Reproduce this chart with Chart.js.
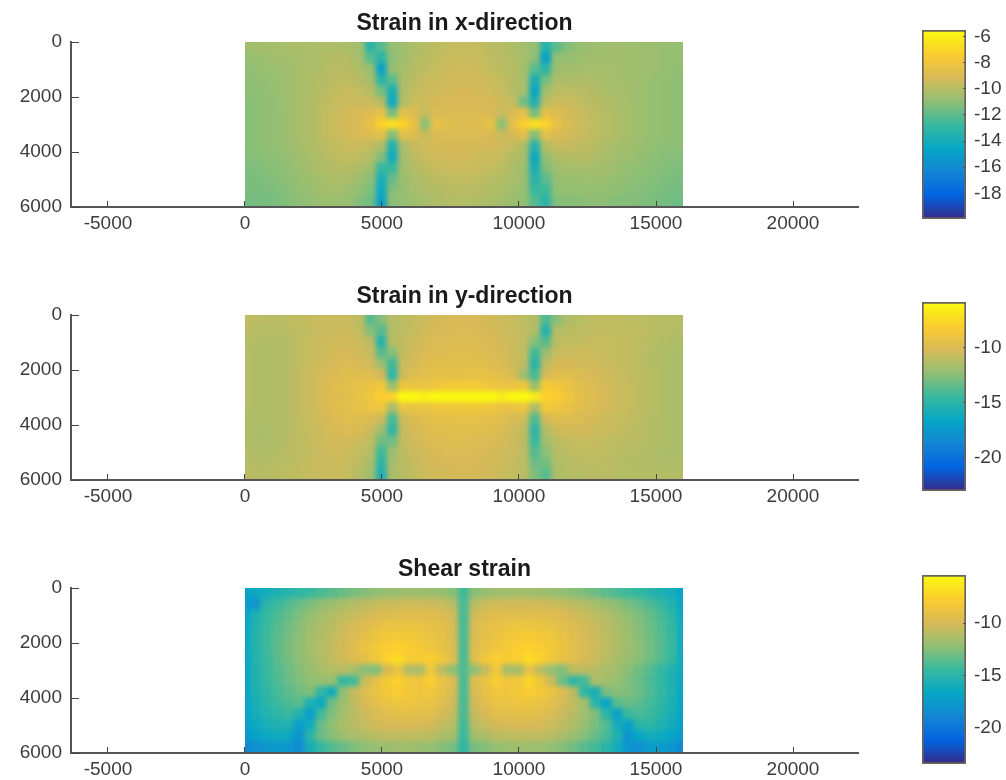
<!DOCTYPE html>
<html><head><meta charset="utf-8">
<style>html,body{margin:0;background:#fff}canvas{position:absolute}</style>
<script src="https://cdn.jsdelivr.net/npm/chart.js@4"></script></head><body>
<script>
const titles=["Strain in x-direction","Strain in y-direction","Shear strain"];
const xTicks=[-5000,0,5000,10000,15000,20000];
const yTicks=[0,2000,4000,6000];
const rowCenters=[200,600,1000,1400,1800,2200,2600,3000,3400,3800,4200,4600,5000,5400,5800];
const colsA=[200,600,1000,1400,1800,2200,2600,3000,3400,3800,4200,4600,5000,5400,5800,6200,6600,7000,7400,7800,8200,8600,9000,9400,9800,10200,10600,11000,11400,11800,12200,12600,13000,13400,13800,14200,14600,15000,15400,15800];
const colsB=[0,400,800,1200,1600,2000,2400,2800,3200,3600,4000,4400,4800,5200,5600,6000,6400,6800,7200,7600,8000,8400,8800,9200,9600,10000,10400,10800,11200,11600,12000,12400,12800,13200,13600,14000,14400,14800,15200,15600,16000];
const parula=["#352a87","#0363e1","#1485d4","#06a7c6","#38b99e","#92bf73","#d9ba56","#fcce2e","#f9fb0e"];
const rangeX=[-19.97,-5.49], rangeY=[-23.06,-5.8], rangeS=[-23.4,-5.43];
const barTicksX=[-6,-8,-10,-12,-14,-16,-18], barTicksY=[-10,-15,-20], barTicksS=[-10,-15,-20];

const strainX=[
[-10.6,-10.5,-10.4,-10.4,-10.3,-10.3,-10.2,-10.2,-10.2,-10.3,-10.5,-13.2,-12.1,-10.9,-10.6,-10.2,-10.0,-9.8,-9.7,-9.6,-9.6,-9.7,-9.9,-10.0,-10.2,-10.5,-10.9,-13.4,-12.0,-11.2,-10.9,-10.7,-10.6,-10.5,-10.6,-10.6,-10.7,-10.7,-10.8,-10.8],
[-10.8,-10.7,-10.6,-10.5,-10.4,-10.3,-10.2,-10.1,-10.0,-10.1,-10.4,-12.1,-13.2,-11.0,-10.6,-10.1,-9.9,-9.7,-9.6,-9.5,-9.5,-9.6,-9.8,-9.9,-10.1,-10.4,-11.0,-14.9,-10.9,-10.8,-10.7,-10.6,-10.5,-10.5,-10.5,-10.6,-10.6,-10.7,-10.8,-10.8],
[-10.9,-10.8,-10.7,-10.6,-10.5,-10.3,-10.2,-10.0,-9.9,-10.0,-10.2,-10.8,-14.9,-10.8,-10.4,-10.0,-9.8,-9.6,-9.5,-9.4,-9.4,-9.5,-9.7,-9.9,-10.0,-10.4,-12.1,-13.2,-10.6,-10.5,-10.5,-10.4,-10.4,-10.4,-10.5,-10.6,-10.6,-10.7,-10.8,-10.9],
[-11.0,-10.9,-10.8,-10.7,-10.5,-10.3,-10.1,-10.0,-9.8,-9.8,-10.0,-10.4,-13.2,-12.1,-10.3,-9.9,-9.6,-9.5,-9.4,-9.3,-9.3,-9.4,-9.5,-9.7,-10.0,-10.4,-13.8,-11.5,-10.3,-10.2,-10.2,-10.2,-10.3,-10.4,-10.5,-10.6,-10.7,-10.8,-10.9,-11.0],
[-11.0,-11.0,-10.8,-10.7,-10.5,-10.3,-10.1,-9.9,-9.7,-9.6,-9.7,-10.0,-11.5,-13.8,-10.2,-9.8,-9.5,-9.4,-9.3,-9.2,-9.2,-9.3,-9.4,-9.6,-10.0,-10.4,-14.6,-10.5,-9.9,-9.8,-9.9,-10.0,-10.2,-10.3,-10.4,-10.6,-10.7,-10.8,-10.9,-11.0],
[-11.1,-11.0,-10.9,-10.7,-10.5,-10.3,-10.0,-9.8,-9.6,-9.5,-9.5,-9.6,-10.0,-14.3,-10.1,-9.5,-9.3,-9.2,-9.1,-9.1,-9.1,-9.1,-9.2,-9.4,-9.7,-11.6,-13.6,-9.9,-9.5,-9.5,-9.7,-9.9,-10.0,-10.2,-10.4,-10.5,-10.7,-10.8,-10.9,-11.0],
[-11.1,-11.0,-10.9,-10.7,-10.5,-10.3,-10.0,-9.7,-9.5,-9.3,-9.1,-8.9,-8.5,-11.5,-8.6,-8.9,-9.6,-9.0,-9.0,-9.0,-9.0,-9.0,-9.1,-9.6,-9.0,-8.6,-11.5,-8.6,-8.9,-9.2,-9.5,-9.7,-9.9,-10.1,-10.3,-10.5,-10.7,-10.8,-10.9,-11.0],
[-11.1,-11.0,-10.9,-10.8,-10.5,-10.3,-10.0,-9.7,-9.4,-9.2,-9.0,-8.4,-7.2,-6.6,-7.2,-8.4,-11.0,-8.4,-8.7,-8.9,-8.9,-8.8,-8.4,-11.0,-8.6,-7.4,-6.6,-7.2,-8.4,-9.0,-9.4,-9.7,-9.9,-10.1,-10.3,-10.5,-10.7,-10.8,-10.9,-11.0],
[-11.1,-11.0,-10.9,-10.7,-10.5,-10.3,-10.0,-9.7,-9.5,-9.3,-9.1,-8.9,-8.6,-11.2,-8.7,-8.9,-9.6,-9.0,-9.0,-9.0,-9.0,-9.0,-9.1,-9.6,-9.1,-8.7,-11.2,-8.7,-9.0,-9.2,-9.5,-9.7,-9.9,-10.1,-10.3,-10.5,-10.7,-10.8,-10.9,-11.0],
[-11.1,-11.0,-10.9,-10.8,-10.6,-10.3,-10.1,-9.9,-9.7,-9.5,-9.5,-9.7,-10.2,-13.6,-10.3,-9.6,-9.3,-9.2,-9.2,-9.2,-9.2,-9.2,-9.2,-9.4,-9.7,-10.2,-13.4,-10.0,-9.6,-9.6,-9.8,-9.9,-10.1,-10.3,-10.5,-10.6,-10.8,-10.9,-11.0,-11.0],
[-11.2,-11.1,-11.0,-10.9,-10.7,-10.5,-10.2,-10.0,-9.8,-9.7,-9.8,-10.1,-11.2,-14.2,-10.4,-9.9,-9.5,-9.4,-9.3,-9.3,-9.3,-9.4,-9.5,-9.7,-10.1,-10.4,-14.4,-10.8,-10.2,-10.0,-10.0,-10.1,-10.3,-10.4,-10.6,-10.7,-10.9,-11.0,-11.1,-11.2],
[-11.3,-11.2,-11.1,-11.0,-10.8,-10.6,-10.3,-10.1,-10.0,-10.0,-10.2,-10.6,-12.8,-12.8,-10.5,-10.1,-9.8,-9.6,-9.5,-9.5,-9.5,-9.6,-9.7,-9.9,-10.2,-10.7,-13.9,-11.3,-10.6,-10.4,-10.4,-10.4,-10.5,-10.6,-10.8,-10.9,-11.0,-11.1,-11.2,-11.3],
[-11.4,-11.3,-11.2,-11.1,-10.9,-10.7,-10.5,-10.3,-10.2,-10.3,-10.6,-11.0,-13.8,-11.8,-10.7,-10.3,-10.0,-9.9,-9.8,-9.7,-9.7,-9.8,-9.9,-10.1,-10.3,-10.7,-13.3,-12.0,-10.9,-10.7,-10.7,-10.6,-10.7,-10.8,-10.9,-11.0,-11.1,-11.2,-11.3,-11.4],
[-11.4,-11.4,-11.3,-11.2,-11.0,-10.8,-10.6,-10.5,-10.4,-10.6,-10.9,-11.3,-14.3,-11.2,-10.8,-10.4,-10.2,-10.1,-10.0,-9.9,-9.9,-10.0,-10.1,-10.3,-10.5,-10.8,-12.8,-12.6,-11.0,-10.9,-10.9,-10.8,-10.9,-10.9,-11.0,-11.1,-11.2,-11.3,-11.4,-11.5],
[-11.5,-11.5,-11.4,-11.3,-11.1,-11.0,-10.8,-10.7,-10.7,-10.8,-11.2,-11.6,-14.9,-11.0,-10.9,-10.6,-10.4,-10.2,-10.1,-10.1,-10.1,-10.2,-10.3,-10.5,-10.7,-10.9,-12.2,-13.2,-11.2,-11.1,-11.1,-11.0,-11.0,-11.1,-11.2,-11.2,-11.3,-11.4,-11.5,-11.6]
];
const strainY=[
[-10.9,-11,-11.1,-11,-10.9,-10.8,-10.7,-10.6,-10.6,-10.6,-10.9,-13.7,-12.6,-11.2,-11,-10.8,-10.5,-10.3,-10.2,-10.1,-10.1,-10.2,-10.3,-10.5,-10.7,-11,-11.3,-13.9,-12.5,-11.4,-11.2,-11,-10.9,-10.9,-10.9,-11,-11,-11.1,-11.2,-11.2],
[-11.1,-11.2,-11.2,-11.2,-11,-10.9,-10.7,-10.6,-10.5,-10.5,-10.8,-12.6,-13.7,-11.3,-11,-10.7,-10.4,-10.2,-10.1,-10,-10,-10.1,-10.2,-10.4,-10.6,-10.9,-11.3,-15.3,-11.2,-11.1,-11,-10.9,-10.8,-10.8,-10.9,-10.9,-11,-11.1,-11.2,-11.3],
[-11.2,-11.3,-11.3,-11.3,-11,-10.8,-10.6,-10.5,-10.4,-10.4,-10.6,-11,-15.3,-11.1,-10.8,-10.5,-10.2,-10,-10,-9.9,-9.9,-10,-10.1,-10.3,-10.5,-10.9,-12.6,-13.7,-11,-10.9,-10.8,-10.7,-10.7,-10.7,-10.8,-10.9,-11,-11.2,-11.3,-11.4],
[-11.3,-11.4,-11.4,-11.3,-11,-10.8,-10.6,-10.4,-10.2,-10.2,-10.4,-10.7,-13.7,-12.6,-10.8,-10.4,-10,-9.9,-9.8,-9.7,-9.7,-9.8,-10,-10.2,-10.5,-10.9,-14.3,-12,-10.7,-10.6,-10.5,-10.5,-10.6,-10.7,-10.8,-10.9,-11.1,-11.3,-11.4,-11.5],
[-11.3,-11.4,-11.4,-11.3,-11,-10.8,-10.5,-10.3,-10.1,-10,-10.1,-10.4,-12,-14.3,-10.6,-10.2,-9.8,-9.6,-9.6,-9.6,-9.6,-9.6,-9.8,-10,-10.5,-10.9,-15.1,-11,-10.3,-10.2,-10.3,-10.4,-10.5,-10.7,-10.8,-10.9,-11.1,-11.3,-11.4,-11.5],
[-11.3,-11.4,-11.4,-11.3,-11,-10.7,-10.4,-10.1,-9.9,-9.7,-9.7,-9.8,-10.3,-14.9,-10.4,-9.8,-9.5,-9.4,-9.4,-9.4,-9.3,-9.3,-9.4,-9.6,-10,-12,-14.1,-10.2,-9.7,-9.6,-9.9,-10.1,-10.3,-10.5,-10.7,-10.9,-11,-11.2,-11.4,-11.5],
[-11.3,-11.4,-11.4,-11.3,-11,-10.7,-10.4,-10,-9.7,-9.5,-9.3,-9,-8.7,-12,-8.9,-9,-9,-8.8,-8.6,-8.5,-8.5,-8.5,-8.8,-9,-9,-8.7,-12,-8.4,-8.6,-9.1,-9.6,-9.9,-10.1,-10.4,-10.6,-10.8,-11,-11.2,-11.4,-11.5],
[-11.3,-11.4,-11.4,-11.3,-11,-10.7,-10.4,-10,-9.8,-9.6,-9.3,-8.8,-8,-7.8,-5.9,-5.9,-6.3,-5.9,-5.9,-5.9,-5.9,-5.9,-5.9,-6.5,-5.9,-5.9,-6.6,-7.8,-8.2,-8.8,-9.4,-9.8,-10.1,-10.3,-10.6,-10.8,-11,-11.2,-11.4,-11.5],
[-11.3,-11.4,-11.4,-11.3,-11,-10.7,-10.4,-10,-9.7,-9.5,-9.3,-9,-8.8,-11.6,-9.1,-9.1,-9.1,-8.9,-8.8,-8.7,-8.7,-8.7,-8.9,-9.1,-9.2,-8.9,-11.6,-8.6,-8.8,-9.2,-9.6,-9.9,-10.1,-10.4,-10.6,-10.8,-11,-11.2,-11.4,-11.5],
[-11.4,-11.4,-11.4,-11.3,-11,-10.8,-10.5,-10.2,-9.9,-9.7,-9.7,-9.9,-10.5,-14.1,-10.5,-9.9,-9.6,-9.5,-9.4,-9.4,-9.4,-9.4,-9.5,-9.7,-10.1,-10.4,-13.9,-10.3,-9.8,-9.8,-10,-10.2,-10.4,-10.6,-10.8,-10.9,-11.1,-11.3,-11.4,-11.5],
[-11.4,-11.5,-11.4,-11.3,-11,-10.8,-10.6,-10.3,-10.1,-10,-10.1,-10.5,-11.9,-14.9,-10.7,-10.2,-9.9,-9.7,-9.6,-9.6,-9.6,-9.7,-9.8,-10,-10.4,-10.8,-15,-11.2,-10.5,-10.3,-10.3,-10.4,-10.6,-10.7,-10.8,-11,-11.1,-11.3,-11.4,-11.5],
[-11.4,-11.5,-11.4,-11.3,-11,-10.9,-10.6,-10.4,-10.3,-10.3,-10.5,-10.9,-13.1,-13.1,-10.8,-10.4,-10.1,-9.9,-9.8,-9.8,-9.8,-9.9,-10,-10.2,-10.5,-11,-14.5,-11.8,-11,-10.8,-10.7,-10.7,-10.8,-10.9,-11,-11.1,-11.2,-11.3,-11.4,-11.5],
[-11.3,-11.4,-11.3,-11.2,-11,-10.9,-10.7,-10.5,-10.4,-10.5,-10.8,-11.2,-14.3,-12,-11,-10.6,-10.3,-10.1,-10,-10,-10,-10.1,-10.2,-10.4,-10.6,-11,-13.8,-12.4,-11.2,-11,-10.9,-10.9,-10.9,-11,-11.1,-11.2,-11.3,-11.4,-11.5,-11.5],
[-11.2,-11.3,-11.2,-11.1,-11,-10.8,-10.7,-10.6,-10.5,-10.7,-11,-11.6,-14.9,-11.6,-11.1,-10.7,-10.4,-10.2,-10.2,-10.1,-10.1,-10.2,-10.3,-10.5,-10.7,-11,-13.2,-13,-11.4,-11.2,-11.1,-11,-11,-11.1,-11.2,-11.3,-11.3,-11.4,-11.4,-11.4],
[-11.1,-11.2,-11.1,-11,-10.9,-10.8,-10.7,-10.6,-10.6,-10.8,-11.2,-11.8,-15.5,-11.5,-11.2,-10.8,-10.5,-10.4,-10.3,-10.2,-10.2,-10.3,-10.4,-10.6,-10.8,-11,-12.7,-13.7,-11.5,-11.2,-11.2,-11.1,-11.1,-11.1,-11.2,-11.2,-11.3,-11.3,-11.3,-11.3]
];
const strainS=[
[-17.0,-16.4,-16.0,-15.6,-15.2,-14.8,-14.4,-14.0,-13.6,-13.2,-12.8,-12.5,-12.2,-12.0,-11.9,-11.8,-11.8,-11.9,-12.0,-12.4,-14.2,-12.4,-12.0,-11.8,-11.7,-11.7,-11.7,-11.8,-11.9,-12.1,-12.4,-12.7,-13.1,-13.5,-13.9,-14.3,-14.7,-15.1,-15.5,-16.0,-16.8],
[-17.2,-18.0,-15.0,-14.4,-13.8,-13.2,-12.7,-12.2,-11.8,-11.4,-11.1,-10.8,-10.6,-10.4,-10.3,-10.2,-10.2,-10.3,-10.4,-11.0,-14.0,-11.0,-10.4,-10.2,-10.1,-10.1,-10.1,-10.2,-10.3,-10.5,-10.8,-11.1,-11.5,-11.9,-12.3,-12.8,-13.3,-13.9,-14.5,-15.3,-16.6],
[-16.8,-15.6,-14.6,-13.9,-13.3,-12.7,-12.1,-11.6,-11.2,-10.8,-10.5,-10.2,-9.9,-9.7,-9.6,-9.5,-9.5,-9.6,-9.7,-10.2,-14.0,-10.2,-9.7,-9.5,-9.4,-9.4,-9.4,-9.5,-9.6,-9.8,-10.1,-10.4,-10.8,-11.2,-11.7,-12.2,-12.7,-13.3,-14.0,-14.9,-16.4],
[-16.6,-15.4,-14.4,-13.7,-13.0,-12.4,-11.8,-11.3,-10.9,-10.4,-10.0,-9.6,-9.2,-8.9,-8.8,-8.8,-8.9,-9.1,-9.3,-9.8,-14.0,-9.8,-9.3,-9.0,-8.8,-8.7,-8.7,-8.8,-9.0,-9.3,-9.7,-10.1,-10.5,-10.9,-11.4,-11.9,-12.5,-13.1,-13.8,-14.7,-16.2],
[-16.6,-15.3,-14.3,-13.6,-12.9,-12.3,-11.7,-11.2,-10.7,-10.2,-9.7,-9.2,-8.7,-8.3,-8.1,-8.2,-8.5,-8.8,-9.1,-9.7,-14.0,-9.7,-9.1,-8.8,-8.4,-8.1,-8.0,-8.2,-8.5,-9.0,-9.5,-9.9,-10.4,-10.8,-11.3,-11.8,-12.4,-13.0,-13.7,-14.6,-16.2],
[-16.6,-15.3,-14.3,-13.5,-12.8,-12.2,-11.6,-11.1,-10.6,-10.1,-9.5,-8.9,-8.3,-7.9,-7.7,-7.9,-8.2,-8.6,-9.0,-9.6,-14.0,-9.6,-9.0,-8.6,-8.1,-7.8,-7.6,-7.9,-8.2,-8.8,-9.3,-9.8,-10.3,-10.8,-11.3,-11.8,-12.3,-12.9,-13.6,-14.5,-16.2],
[-16.7,-15.4,-14.4,-13.6,-12.9,-12.3,-11.7,-11.2,-10.7,-10.2,-9.7,-9.2,-8.5,-7.6,-7.0,-8.0,-8.0,-7.8,-8.4,-9.4,-14.0,-9.4,-8.4,-7.8,-8.0,-7.8,-7.0,-7.6,-8.4,-9.0,-9.5,-10.0,-10.4,-10.9,-11.4,-11.9,-12.4,-13.0,-13.7,-14.6,-16.3],
[-16.8,-15.5,-14.5,-13.8,-13.1,-12.5,-12.0,-11.5,-11.1,-10.9,-11.5,-12.4,-12.6,-10.0,-8.8,-11.2,-11.4,-8.6,-10.8,-12.2,-13.8,-12.2,-10.5,-8.5,-11.5,-11.5,-9.0,-10.8,-12.0,-12.6,-10.8,-10.8,-11.0,-11.4,-11.8,-12.4,-13.0,-13.7,-14.6,-15.4,-16.3],
[-16.8,-15.5,-14.6,-13.9,-13.2,-12.7,-12.2,-12.0,-12.0,-14.6,-14.2,-10.4,-9.2,-8.2,-7.6,-8.4,-8.6,-7.9,-8.9,-9.6,-14.0,-9.6,-8.9,-7.9,-8.6,-8.4,-7.4,-8.6,-10.4,-13.0,-14.8,-14.2,-11.4,-11.6,-12.0,-12.6,-13.2,-13.9,-14.7,-15.5,-16.5],
[-16.8,-15.6,-14.8,-14.1,-13.5,-13.0,-12.6,-14.8,-16.2,-12.2,-10.6,-9.6,-8.9,-8.3,-7.9,-8.3,-8.6,-8.4,-9.1,-9.8,-14.0,-9.8,-9.1,-8.4,-8.6,-8.3,-7.9,-8.2,-8.8,-9.6,-10.8,-14.8,-15.8,-12.8,-12.4,-12.6,-13.1,-13.8,-14.5,-15.4,-16.6],
[-16.9,-15.8,-15.0,-14.4,-13.9,-13.6,-15.6,-16.4,-13.0,-11.8,-10.8,-9.9,-9.3,-8.9,-8.6,-8.7,-8.9,-8.9,-9.5,-10.1,-14.0,-10.1,-9.5,-8.9,-8.9,-8.7,-8.6,-8.9,-9.3,-10.0,-10.7,-11.6,-15.0,-16.8,-13.6,-13.2,-13.5,-14.1,-14.8,-15.6,-16.8],
[-17.0,-16.0,-15.3,-14.8,-14.4,-15.4,-17.2,-14.2,-12.6,-11.6,-10.9,-10.3,-9.8,-9.4,-9.2,-9.2,-9.3,-9.4,-10.0,-10.5,-14.0,-10.5,-10.0,-9.4,-9.3,-9.2,-9.2,-9.4,-9.8,-10.4,-11.0,-11.7,-12.6,-14.8,-17.0,-14.4,-14.0,-14.3,-15.0,-15.8,-16.9],
[-17.3,-16.4,-15.8,-15.4,-15.4,-17.2,-16.2,-13.2,-12.2,-11.4,-11.0,-10.6,-10.2,-10.0,-9.9,-9.9,-10.0,-10.1,-10.6,-11.0,-14.2,-11.0,-10.6,-10.1,-10.0,-9.9,-9.9,-10.0,-10.3,-10.8,-11.3,-12.0,-12.8,-13.7,-16.0,-17.2,-15.0,-14.8,-15.4,-16.1,-17.0],
[-17.8,-17.0,-16.5,-16.2,-16.4,-18.0,-15.0,-13.2,-12.4,-11.9,-11.5,-11.2,-10.9,-10.8,-10.7,-10.7,-10.8,-10.9,-11.3,-11.6,-14.4,-11.6,-11.3,-10.9,-10.8,-10.7,-10.7,-10.8,-11.0,-11.4,-11.9,-12.5,-13.2,-14.0,-15.4,-17.8,-16.6,-16.0,-16.2,-16.8,-17.6],
[-18.8,-18.2,-17.8,-17.6,-17.8,-18.4,-15.8,-14.6,-13.8,-13.2,-12.7,-12.3,-12.0,-11.9,-11.8,-11.8,-11.9,-12.1,-12.5,-12.8,-14.8,-12.8,-12.5,-12.1,-11.9,-11.8,-11.8,-11.9,-12.1,-12.5,-13.0,-13.6,-14.2,-15.0,-16.0,-17.8,-18.2,-17.4,-17.4,-17.8,-18.8]
];

const INK="#3c3c3c", FONT="'Liberation Sans', Arial, sans-serif";
const hex=h=>[1,3,5].map(i=>parseInt(h.substr(i,2),16));
function colorAt(v,r){
  const t=Math.max(0,Math.min(1,(v-r[0])/(r[1]-r[0])))*(parula.length-1);
  const i=Math.min(parula.length-2,Math.floor(t)),f=t-i,a=hex(parula[i]),b=hex(parula[i+1]);
  return `rgb(${a.map((c,k)=>Math.round(c+(b[k]-c)*f)).join(",")})`;
}
function addCanvas(l,t,w,h){
  const c=document.createElement("canvas");
  c.width=w;c.height=h;c.style.left=l+"px";c.style.top=t+"px";c.style.width=w+"px";c.style.height=h+"px";
  document.body.appendChild(c);return c.getContext("2d");
}
const smooth={id:"smooth",
  beforeDatasetsDraw(ch){
    const {x,y}=ch.scales,a=ch.ctx;
    ch.$r=[Math.round(x.getPixelForValue(0)),Math.round(y.getPixelForValue(0)),Math.round(x.getPixelForValue(16000)),Math.round(y.getPixelForValue(6000))];
    const r=ch.$r;a.save();a.beginPath();a.rect(r[0],r[1],r[2]-r[0],r[3]-r[1]);a.clip();
  },
  afterDatasetsDraw(ch){
    const a=ch.ctx,r=ch.$r,w=r[2]-r[0],h=r[3]-r[1],m=12;a.restore();
    const t=document.createElement("canvas");t.width=w+2*m;t.height=h+2*m;const g=t.getContext("2d");
    g.drawImage(a.canvas,r[0],r[1],1,h,0,m,m,h);g.drawImage(a.canvas,r[0]+w-1,r[1],1,h,m+w,m,m,h);
    g.drawImage(a.canvas,r[0],r[1],w,h,m,m,w,h);
    g.drawImage(t,0,m,w+2*m,1,0,0,w+2*m,m);g.drawImage(t,0,m+h-1,w+2*m,1,0,m+h,w+2*m,m);
    a.save();a.beginPath();a.rect(r[0],r[1],w,h);a.clip();a.filter="blur(2.6px)";a.drawImage(t,r[0]-m,r[1]-m);a.restore();
  }};
function heat(top,title,vals,cols,range){
  const pts=[],colors=[];
  vals.forEach((row,j)=>row.forEach((v,i)=>{pts.push({x:cols[i],y:rowCenters[j]});colors.push(colorAt(v,range));}));
  new Chart(addCanvas(0,top-34,880,34+165+32),{type:"scatter",plugins:[smooth],
    data:{datasets:[{data:pts,pointStyle:"rect",backgroundColor:colors,borderWidth:0,
      pointRadius:c=>{const s=c.chart.scales.x;return (s.getPixelForValue(400)-s.getPixelForValue(0)+1.5)/Math.SQRT2;},clip:false}]},
    options:{responsive:false,animation:false,events:[],layout:{padding:{right:22}},
      plugins:{legend:{display:false},tooltip:{enabled:false},
        title:{display:true,text:title,fullSize:false,color:"#1a1a1a",font:{family:FONT,size:23,weight:"bold",lineHeight:1},padding:{top:4,bottom:7}}},
      scales:{
        x:{type:"linear",min:-6350,max:22372,afterFit:s=>{s.height=32},afterBuildTicks:s=>{s.ticks=xTicks.map(v=>({value:v}))},
          grid:{drawOnChartArea:false,tickLength:-6,tickColor:"#444",z:1},border:{color:"#555",width:2,z:1},
          ticks:{maxRotation:0,autoSkip:false,padding:5+6,color:INK,font:{family:FONT,size:19},callback:v=>String(v)}},
        y:{type:"linear",reverse:true,min:0,max:6000,afterFit:s=>{s.width=71},afterBuildTicks:s=>{s.ticks=yTicks.map(v=>({value:v}))},
          grid:{drawOnChartArea:false,tickLength:-8,tickColor:"#444",z:1},border:{color:"#555",width:2,z:1},
          ticks:{autoSkip:false,padding:8+9,color:INK,font:{family:FONT,size:19},callback:v=>String(v)}}
      }}});
}
function bar(top,h,range,ticks){
  new Chart(addCanvas(910,top-14,96,h+28),{type:"bar",
    data:{labels:["c"],datasets:[{data:[[range[0],range[1]]],barPercentage:1,categoryPercentage:1,borderWidth:2,borderColor:"#6a6458",borderSkipped:false,
      backgroundColor:c=>{const ar=c.chart.chartArea;if(!ar)return parula[0];const g=c.chart.ctx.createLinearGradient(0,ar.bottom,0,ar.top);parula.forEach((p,i)=>g.addColorStop(i/(parula.length-1),p));return g;}}]},
    options:{responsive:false,animation:false,events:[],layout:{padding:{left:12,top:15,bottom:15}},
      plugins:{legend:{display:false},tooltip:{enabled:false}},
      scales:{
        x:{display:false},
        y:{position:"right",min:range[0],max:range[1],afterFit:s=>{s.width=96-12-44;s.paddingTop=0;s.paddingBottom=0;},afterBuildTicks:s=>{s.ticks=ticks.map(v=>({value:v}))},
          grid:{drawOnChartArea:false,tickLength:-3,tickColor:"#555",z:1},border:{display:false},
          ticks:{autoSkip:false,padding:3+8,color:INK,font:{family:FONT,size:19},callback:v=>String(v)}}
      }}});
}
heat(42,titles[0],strainX,colsA,rangeX);
heat(315,titles[1],strainY,colsA,rangeY);
heat(588,titles[2],strainS,colsB,rangeS);
bar(29,191,rangeX,barTicksX);
bar(301,191,rangeY,barTicksY);
bar(574,191,rangeS,barTicksS);
</script></body></html>
